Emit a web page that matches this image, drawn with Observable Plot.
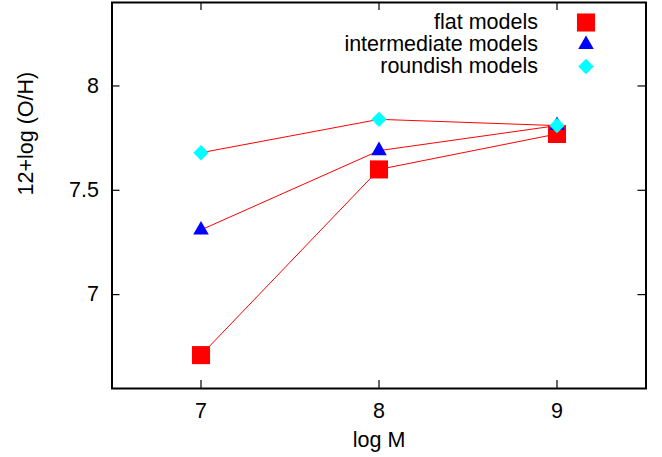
<!DOCTYPE html>
<html>
<head>
<meta charset="utf-8">
<script src="https://cdn.jsdelivr.net/npm/d3@7"></script>
<script src="https://cdn.jsdelivr.net/npm/@observablehq/plot@0.6"></script>
<style>
  html, body { margin: 0; padding: 0; background: #fff; }
  svg { display: block; }
</style>
</head>
<body>
<div id="chart"></div>
<script>
// ---- data ----
const logM = [7, 8, 9];
const flatModels = [6.71, 7.60, 7.77];
const intermediateModels = [7.31, 7.69, 7.81];
const roundishModels = [7.68, 7.84, 7.81];
const seriesNames = ["flat models", "intermediate models", "roundish models"];
const seriesColors = ["#ff0000", "#0000ff", "#00ffff"];
const seriesSymbols = ["square", "triangle", "diamond2"];
const xTicks = [7, 8, 9];
const yTicks = [7, 7.5, 8];
const xLabel = "log M";
const yLabel = "12+log (O/H)";

const seriesValues = [flatModels, intermediateModels, roundishModels];
const seriesR = [10.2, 5.8, 6.9];

const W = 662, H = 457;
const mL = 111.5, mR = 16.5, mT = 2, mB = 69;
const plotH = H - mT - mB;
const plotW = W - mL - mR;
const font = "Liberation Sans, Arial, Helvetica, sans-serif";
const fs = 21.5;

const marks = [];
// inward ticks on all four sides
marks.push(Plot.tickX(xTicks, {x: d => d, insetTop: plotH - 8, stroke: "black", strokeWidth: 1.2}));
marks.push(Plot.tickX(xTicks, {x: d => d, insetBottom: plotH - 8, stroke: "black", strokeWidth: 1.2}));
marks.push(Plot.tickY(yTicks, {y: d => d, insetRight: plotW - 8, stroke: "black", strokeWidth: 1.2}));
marks.push(Plot.tickY(yTicks, {y: d => d, insetLeft: plotW - 8, stroke: "black", strokeWidth: 1.2}));

// series: line then points
seriesValues.forEach((vals, i) => {
  const rows = logM.map((x, j) => ({x, y: vals[j]}));
  marks.push(Plot.line(rows, {x: "x", y: "y", stroke: "#ff0000", strokeWidth: 1}));
  marks.push(Plot.dot(rows, {x: "x", y: "y", symbol: () => seriesSymbols[i], r: seriesR[i], fill: seriesColors[i], stroke: "none"}));
});

// legend inside frame (top-right)
seriesNames.forEach((name, i) => {
  marks.push(Plot.text([name], {frameAnchor: "top-right", text: d => d, dx: -108, dy: 20 + 22 * i,
    textAnchor: "end", lineAnchor: "middle", fontSize: fs, fill: "black"}));
  marks.push(Plot.dot([name], {frameAnchor: "top-right", dx: -60, dy: 20 + 22 * i,
    symbol: () => seriesSymbols[i], r: seriesR[i], fill: seriesColors[i], stroke: "none"}));
});

// axes
marks.push(Plot.axisX(xTicks, {tickSize: 0, tickPadding: 14, fontSize: fs, label: null, tickFormat: d => String(d)}));
marks.push(Plot.axisY(yTicks, {tickSize: 0, tickPadding: 13, fontSize: fs, label: null, tickFormat: d => String(d)}));
marks.push(Plot.text([xLabel], {frameAnchor: "bottom", text: d => d, dy: 52, lineAnchor: "middle", fontSize: fs, fill: "black"}));
marks.push(Plot.text([yLabel], {frameAnchor: "left", text: d => d, dx: -86, rotate: -90, lineAnchor: "middle", fontSize: fs, fill: "black"}));
marks.push(Plot.frame({stroke: "black", strokeWidth: 2}));

const chart = Plot.plot({
  width: W,
  height: H,
  marginLeft: mL,
  marginRight: mR,
  marginTop: mT,
  marginBottom: mB,
  style: {fontFamily: font, fontSize: fs + "px", background: "white", color: "black"},
  x: {domain: [6.5, 9.5], axis: null},
  y: {domain: [6.55, 8.4], axis: null},
  marks
});
document.getElementById("chart").appendChild(chart);
</script>
</body>
</html>
